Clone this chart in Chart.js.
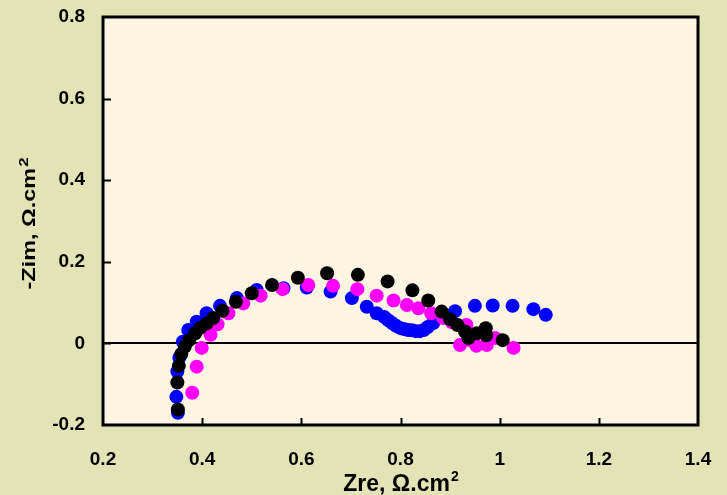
<!DOCTYPE html>
<html>
<head>
<meta charset="utf-8">
<script src="https://cdn.jsdelivr.net/npm/chart.js@4"></script>
<style>
  html, body { margin: 0; padding: 0; background: #e3e4b6; }
  #wrap { width: 727px; height: 495px; position: relative; }
</style>
</head>
<body>
<div id="wrap"><canvas id="chart"></canvas></div>
<script>
const xTicks = [0.2, 0.4, 0.6, 0.8, 1, 1.2, 1.4];
const yTicks = [-0.2, 0, 0.2, 0.4, 0.6, 0.8];

const blueX = [0.351, 0.348, 0.350, 0.354, 0.361, 0.372, 0.389, 0.409, 0.436, 0.470, 0.510, 0.564, 0.611, 0.659, 0.702, 0.732, 0.752,
    0.767, 0.775, 0.783, 0.791, 0.799, 0.807, 0.815, 0.823, 0.831, 0.839, 0.847, 0.855, 0.866, 0.882, 0.910,
    0.950, 0.986, 1.026, 1.068, 1.093];
const blueY = [-0.170, -0.131, -0.069, -0.035, 0.004, 0.033, 0.053, 0.074, 0.092, 0.111, 0.131, 0.135, 0.137, 0.127, 0.111, 0.090, 0.074,
    0.065, 0.057, 0.050, 0.043, 0.038, 0.035, 0.033, 0.032, 0.030, 0.030, 0.033, 0.040, 0.050, 0.065, 0.079,
    0.092, 0.093, 0.092, 0.084, 0.070];

const pinkX = [0.380, 0.389, 0.399, 0.417, 0.431, 0.453, 0.483, 0.518, 0.562, 0.614, 0.664, 0.713, 0.752, 0.786, 0.813, 0.836, 0.862,
    0.886, 0.904, 0.933, 0.940, 0.920, 0.953, 0.974, 0.991, 1.028];
const pinkY = [-0.121, -0.057, -0.011, 0.021, 0.047, 0.074, 0.098, 0.117, 0.133, 0.143, 0.141, 0.133, 0.117, 0.105, 0.094, 0.086, 0.074,
    0.062, 0.052, 0.045, 0.008, -0.004, -0.006, -0.004, 0.013, -0.011];

const blackX = [0.351, 0.350, 0.353, 0.358, 0.365, 0.374, 0.386, 0.396, 0.409, 0.422, 0.441, 0.468, 0.500, 0.541, 0.593, 0.652, 0.714,
    0.774, 0.824, 0.856, 0.883, 0.900, 0.915, 0.930, 0.937, 0.954, 0.972, 0.973, 1.006];
const blackY = [-0.162, -0.096, -0.055, -0.026, -0.008, 0.008, 0.025, 0.038, 0.049, 0.062, 0.080, 0.102, 0.123, 0.143, 0.161, 0.172, 0.168,
    0.152, 0.130, 0.105, 0.078, 0.059, 0.045, 0.029, 0.013, 0.025, 0.037, 0.020, 0.008];

const pts = (xs, ys) => xs.map((x, i) => ({ x: x, y: ys[i] }));
const font = "'Liberation Sans', Arial, sans-serif";

// plot background, frame, inward ticks and axis titles
const frame = {
    id: 'frame',
    beforeDraw(chart) {
        const { ctx, chartArea: a } = chart;
        ctx.save();
        ctx.fillStyle = '#e3e4b6';
        ctx.fillRect(0, 0, chart.width, chart.height);
        ctx.fillStyle = '#fdf4e1';
        ctx.fillRect(a.left, a.top, a.right - a.left, a.bottom - a.top);
        ctx.restore();
    },
    afterDraw(chart) {
        const { ctx, chartArea: a, scales } = chart;
        ctx.save();
        ctx.strokeStyle = '#000';
        ctx.lineWidth = 2;
        ctx.beginPath();
        xTicks.slice(1, -1).forEach(v => {
            const px = Math.round(scales.x.getPixelForValue(v)) + 0.5;
            ctx.moveTo(px, a.bottom);
            ctx.lineTo(px, a.bottom - 7);
        });
        yTicks.slice(1, -1).forEach(v => {
            const py = Math.round(scales.y.getPixelForValue(v)) + 0.5;
            ctx.moveTo(a.left, py);
            ctx.lineTo(a.left + 8, py);
        });
        ctx.stroke();
        ctx.lineWidth = 3;
        ctx.strokeRect(a.left, a.top, a.right - a.left, a.bottom - a.top);

        ctx.fillStyle = '#000';
        ctx.textBaseline = 'alphabetic';
        ctx.textAlign = 'left';

        // x title
        const xt = 'Zre, Ω.cm';
        ctx.font = 'bold 23px ' + font;
        const w1 = ctx.measureText(xt).width;
        ctx.font = 'bold 14px ' + font;
        const w2 = ctx.measureText('2').width;
        const cx = (a.left + a.right) / 2 - (w1 + w2) / 2;
        ctx.font = 'bold 23px ' + font;
        ctx.fillText(xt, cx, 491);
        ctx.font = 'bold 14px ' + font;
        ctx.fillText('2', cx + w1 + 1, 481);

        // y title, a little stretched along its length like the original
        const yt = '-Zim, Ω.cm';
        ctx.translate(35, 224);
        ctx.rotate(-Math.PI / 2);
        ctx.scale(1.3, 1);
        ctx.font = 'bold 18px ' + font;
        const v1 = ctx.measureText(yt).width;
        ctx.font = 'bold 13px ' + font;
        const v2 = ctx.measureText('2').width;
        const cy = -(v1 + v2) / 2;
        ctx.font = 'bold 18px ' + font;
        ctx.fillText(yt, cy, 0);
        ctx.font = 'bold 13px ' + font;
        ctx.fillText('2', cy + v1 + 1, -7);
        ctx.restore();
    }
};

new Chart('chart', {
    type: 'scatter',
    data: {
        datasets: [{
            label: 'black',
            data: pts(blackX, blackY),
            backgroundColor: '#000000',
            order: 1
        }, {
            label: 'magenta',
            data: pts(pinkX, pinkY),
            backgroundColor: '#ff00ff',
            order: 2
        }, {
            label: 'blue',
            data: pts(blueX, blueY),
            backgroundColor: '#0000ff',
            order: 3
        }]
    },
    options: {
        responsive: true,
        maintainAspectRatio: false,
        animation: false,
        layout: { padding: { top: 17, right: 29, left: 0, bottom: 0 } },
        elements: { point: { radius: 7, borderWidth: 0, hoverRadius: 7 } },
        plugins: { legend: { display: false }, tooltip: { enabled: false } },
        scales: {
            x: {
                type: 'linear',
                min: 0.2,
                max: 1.4,
                afterBuildTicks: s => { s.ticks = xTicks.map(v => ({ value: v })); },
                afterFit: s => { s.height = 70; s.paddingLeft = 0; s.paddingRight = 0; },
                grid: { display: false },
                border: { display: false },
                ticks: {
                    padding: 15,
                    color: '#000',
                    font: { family: font, size: 19, weight: 'bold' },
                    maxRotation: 0,
                    callback: v => String(v)
                }
            },
            y: {
                type: 'linear',
                min: -0.2,
                max: 0.8,
                afterBuildTicks: s => { s.ticks = yTicks.map(v => ({ value: v })); },
                afterFit: s => { s.width = 103; s.paddingTop = 0; s.paddingBottom = 0; },
                grid: {
                    drawTicks: false,
                    lineWidth: 2,
                    color: c => (c.tick && c.tick.value === 0) ? '#000' : 'rgba(0,0,0,0)'
                },
                border: { display: false },
                ticks: {
                    padding: 18,
                    color: '#000',
                    font: { family: font, size: 19, weight: 'bold' },
                    callback: v => String(v)
                }
            }
        }
    },
    plugins: [frame]
});
</script>
</body>
</html>
